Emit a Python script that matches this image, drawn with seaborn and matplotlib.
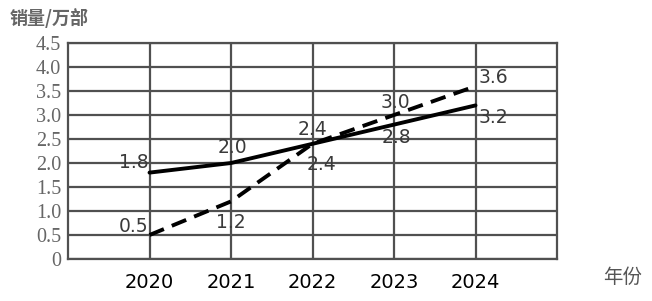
import matplotlib
matplotlib.use("Agg")
import matplotlib.pyplot as plt
import seaborn as sns
import pandas as pd

years = [2020, 2021, 2022, 2023, 2024]
series_a = [1.8, 2.0, 2.4, 2.8, 3.2]   # solid
series_b = [0.5, 1.2, 2.4, 3.0, 3.6]   # dashed
y_ticks = [0, 0.5, 1.0, 1.5, 2.0, 2.5, 3.0, 3.5, 4.0, 4.5]
y_tick_labels = ["0", "0.5", "1.0", "1.5", "2.0", "2.5", "3.0", "3.5", "4.0", "4.5"]
x_tick_labels = ["2020", "2021", "2022", "2023", "2024"]

sns.set_theme(style="white")
plt.rcParams['font.family'] = ['Noto Sans CJK SC', 'DejaVu Sans']

df = pd.DataFrame({
    "year": years * 2,
    "value": series_a + series_b,
    "series": ["A"] * len(years) + ["B"] * len(years),
})

fig = plt.figure(figsize=(6.52, 3.01), dpi=100)
ax = fig.add_axes([0.1043, 0.1395, 0.75, 0.7176])

sns.lineplot(data=df, x="year", y="value", style="series", ax=ax,
             color="black", linewidth=2.8, legend=False,
             dashes={"A": "", "B": (4, 2.2)})

ax.set_xlim(2019, 2025)
ax.set_ylim(0, 4.5)
ax.set_xticks(years)
ax.set_xticklabels(x_tick_labels, fontsize=14, color="black",
                   family=["DejaVu Sans"])
ax.set_yticks(y_ticks)
ax.set_yticklabels(y_tick_labels, fontsize=14.5, color="#666666",
                   family=["Liberation Serif"])
ax.tick_params(axis="x", length=0, pad=10)
ax.tick_params(axis="y", length=0, pad=5)
ax.grid(True, color="#505050", linewidth=1.6)
for s in ax.spines.values():
    s.set_color("#505050")
    s.set_linewidth(1.6)
ax.set_xlabel("")
ax.set_ylabel("")

lbl = dict(fontsize=13.5, color="#3a3a3a", family=["DejaVu Sans"], ha="center", va="center")
# solid series labels
ax.text(2020 - 0.19, 1.8 + 0.22, "1.8", **lbl)
ax.text(2021 + 0.02, 2.0 + 0.33, "2.0", **lbl)
ax.text(2022 + 0.0, 2.4 + 0.29, "2.4", **lbl)
ax.text(2023 + 0.03, 2.8 - 0.26, "2.8", **lbl)
ax.text(2024 + 0.22, 3.2 - 0.26, "3.2", **lbl)
# dashed series labels
ax.text(2020 - 0.2, 0.5 + 0.17, "0.5", **lbl)
ax.text(2021 + 0.0, 1.2 - 0.43, "1.2", **lbl)
ax.text(2022 + 0.11, 2.4 - 0.44, "2.4", **lbl)
ax.text(2023 + 0.02, 3.0 + 0.27, "3.0", **lbl)
ax.text(2024 + 0.22, 3.6 + 0.19, "3.6", **lbl)

fig.text(10 / 652, 1 - 18 / 301, "销量/万部", fontsize=13, color="#666666",
         ha="left", va="center", fontweight="bold")
fig.text(623 / 652, 1 - 277 / 301, "年份", fontsize=14, color="#555555",
         ha="center", va="center")

fig.savefig("out.png", dpi=100, facecolor="white")
